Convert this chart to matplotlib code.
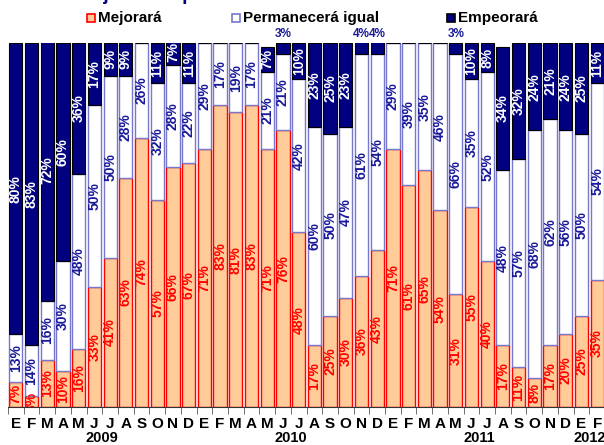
import matplotlib.pyplot as plt
import numpy as np
from matplotlib.patches import Rectangle

plt.rcParams['font.family'] = ['Liberation Sans', 'DejaVu Sans']

months = ['E', 'F', 'M', 'A', 'M', 'J', 'J', 'A', 'S', 'O', 'N', 'D',
          'E', 'F', 'M', 'A', 'M', 'J', 'J', 'A', 'S', 'O', 'N', 'D',
          'E', 'F', 'M', 'A', 'M', 'J', 'J', 'A', 'S', 'O', 'N', 'D',
          'E', 'F']
years = ['2009', '2010', '2011', '2012']
year_pos = [5.5, 17.5, 29.5, 36.5]

mejorara = [7, 3, 13, 10, 16, 33, 41, 63, 74, 57, 66, 67,
            71, 83, 81, 83, 71, 76, 48, 17, 25, 30, 36, 43,
            71, 61, 65, 54, 31, 55, 40, 17, 11, 8, 17, 20,
            25, 35]
permanecera = [13, 14, 16, 30, 48, 50, 50, 28, 26, 32, 28, 22,
               29, 17, 19, 17, 21, 21, 42, 60, 50, 47, 61, 54,
               29, 39, 35, 46, 66, 35, 52, 48, 57, 68, 62, 56,
               50, 54]
empeorara = [80, 83, 72, 60, 36, 17, 9, 9, 0, 11, 7, 11,
             0, 0, 0, 0, 7, 3, 10, 23, 25, 23, 4, 4,
             0, 0, 0, 0, 3, 10, 8, 34, 32, 24, 21, 24,
             25, 11]

ORANGE = '#FFCC99'
RED = '#FF0000'
NAVY = '#000080'
LAV = '#7777CC'
LBL_BLUE = '#1A1A99'

fig = plt.figure(figsize=(6.04, 4.45), dpi=100)
ax = fig.add_axes([8 / 604, 38 / 445, 597 / 604, 364 / 445])

x = np.arange(len(months))
m = np.array(mejorara)
p = np.array(permanecera)
e = np.array(empeorara)
w = 0.84

ax.bar(x, m, w, color=ORANGE, edgecolor=RED, linewidth=1)
ax.bar(x, p, w, bottom=m, color='white', edgecolor=LAV, linewidth=1)
ax.bar(x, e, w, bottom=m + p, color=NAVY, edgecolor='black', linewidth=0.8)

fs = 10
for i in x:
    ax.text(i, m[i] / 2, f'{m[i]}%', rotation=90, ha='center', va='center',
            color=RED, fontsize=fs, fontweight='bold', clip_on=True)
    ax.text(i, m[i] + p[i] / 2, f'{p[i]}%', rotation=90, ha='center',
            va='center', color=LBL_BLUE, fontsize=fs, fontweight='bold')
    if e[i] >= 5:
        ax.text(i, m[i] + p[i] + e[i] / 2, f'{e[i]}%', rotation=90,
                ha='center', va='center', color='white', fontsize=fs,
                fontweight='bold')
    elif e[i] > 0:
        ax.text(i, 102.5, f'{e[i]}%', ha='center', va='center',
                color=LBL_BLUE, fontsize=8.5, fontweight='bold', clip_on=False)

ax.set_xlim(-0.5, len(months) - 0.5)
ax.set_ylim(0, 100)
for s in ['top', 'right', 'left']:
    ax.spines[s].set_visible(False)
ax.spines['bottom'].set_color('#333333')
ax.set_yticks([])
ax.set_xticks(x)
ax.set_xticklabels(months, fontsize=11, fontweight='bold')
ax.tick_params(axis='x', length=0, pad=7)
ax.set_xticks(np.arange(-0.5, len(months), 1), minor=True)
ax.tick_params(axis='x', which='minor', length=5, color='#555555')

for yr, xp in zip(years, year_pos):
    ax.text(xp, -8.4, yr, ha='center', va='center', fontsize=10.5,
            fontweight='bold', clip_on=False)

# title sits mostly above the picture, only its bottom edge shows
fig.text(20 / 604, 1 - 0.5 / 445, 'Porcentaje de respuestas', fontsize=14,
         fontweight='bold', color=NAVY, va='baseline', ha='left')

# legend
legend_items = [('Mejorará', ORANGE, RED, 87),
                ('Permanecerá igual', 'white', LAV, 232),
                ('Empeorará', NAVY, 'black', 447)]
for label, fc, ec, px in legend_items:
    fig.patches.append(Rectangle((px / 604, 1 - 22 / 445), 8 / 604, 8 / 445,
                                 transform=fig.transFigure, facecolor=fc,
                                 edgecolor=ec, linewidth=1.2))
    fig.text((px + 11) / 604, 1 - 18 / 445, label, fontsize=11,
             fontweight='bold', va='center', ha='left')

fig.savefig('out.png', dpi=100)
